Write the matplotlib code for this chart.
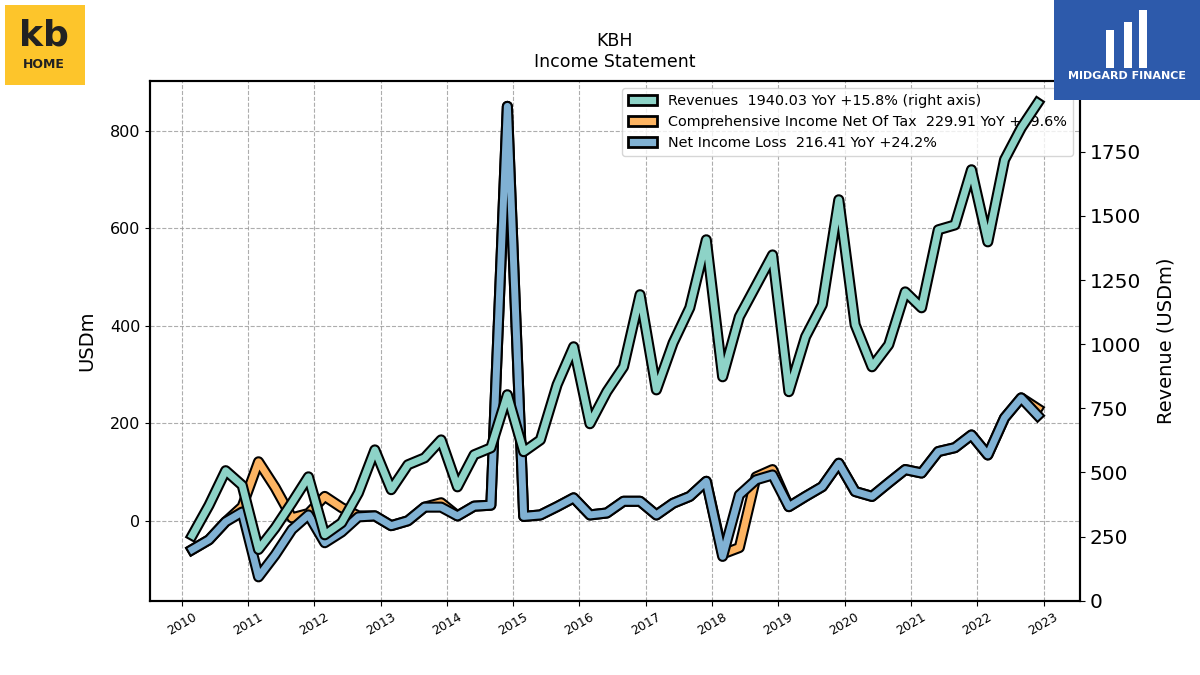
import pandas as pd
import matplotlib
matplotlib.use('Agg')
import matplotlib.pyplot as plt
import matplotlib.patheffects as pe
import matplotlib.dates as mdates
from matplotlib.patches import Patch, Rectangle

# quarter ends (fiscal year ends in November)
quarters = [f'{y}-{md}' for y in range(2010, 2023) for md in ('02-28', '05-31', '08-31', '11-30')]
dates = pd.to_datetime(quarters)

revenue = [255, 372, 507, 450, 200, 284, 382, 483, 257, 304, 420, 588,
           433, 530, 557, 627, 444, 569, 596, 803, 581, 627, 842, 990,
           690, 815, 912, 1193, 822, 1005, 1142, 1407, 873, 1107, 1228, 1348,
           815, 1029, 1154, 1563, 1076, 912, 998, 1204, 1142, 1446, 1465, 1680,
           1399, 1719, 1843, 1940]
net_income = [-59, -39, -2, 18, -115, -70, -18, 12, -45, -23, 8, 10,
              -10, 0, 28, 28, 10, 30, 32, 850, 9, 12, 29, 47,
              12, 16, 40, 40, 12, 36, 50, 81, -73, 53, 84, 94,
              29, 50, 70, 118, 60, 50, 78, 105, 98, 142, 150, 176,
              135, 211, 252, 216]
comp_income = [-59, -39, -2, 29, 121, 68, 6, 15, 50, 27, 10, 10,
               -10, 0, 28, 37, 10, 30, 32, 850, 9, 12, 29, 47,
               12, 16, 40, 40, 12, 36, 50, 81, -68, -55, 90, 105,
               29, 50, 70, 118, 60, 50, 78, 105, 98, 142, 150, 176,
               135, 211, 252, 230]

labels = ['Revenues  1940.03 YoY +15.8% (right axis)',
          'Comprehensive Income Net Of Tax  229.91 YoY +29.6%',
          'Net Income Loss  216.41 YoY +24.2%']
colors = ['#8dd3c7', '#fdb462', '#80b1d3']

fig, ax1 = plt.subplots(figsize=(12, 6.75), dpi=100)
fig.subplots_adjust(left=0.125, right=0.9, bottom=0.11, top=0.88)
ax2 = ax1.twinx()

outline = [pe.Stroke(linewidth=8, foreground='black'), pe.Normal()]
ax1.plot(dates, comp_income, color=colors[1], lw=5, path_effects=outline)
ax1.plot(dates, net_income, color=colors[2], lw=5, path_effects=outline)
ax2.plot(dates, revenue, color=colors[0], lw=5, path_effects=outline)

ax1.set_ylim(-164, 902)
ax2.set_ylim(0, 2026)
ax1.set_yticks([0, 200, 400, 600, 800])
ax2.set_yticks([0, 250, 500, 750, 1000, 1250, 1500, 1750])
ax1.tick_params(axis='y', labelsize=11.5)
ax2.tick_params(axis='y', labelsize=14.5)

ax1.xaxis.set_major_locator(mdates.YearLocator())
ax1.xaxis.set_major_formatter(mdates.DateFormatter('%Y'))
for t in ax1.get_xticklabels():
    t.set_rotation(30)
    t.set_fontsize(9)

ax1.grid(True, linestyle='--', color='#999999', lw=0.8, alpha=0.8)
for ax in (ax1, ax2):
    for s in ax.spines.values():
        s.set_linewidth(1.5)

ax1.set_ylabel('USDm', fontsize=14, labelpad=10)
ax2.set_ylabel('Revenue (USDm)', fontsize=14, labelpad=11)
ax1.set_title('KBH\nIncome Statement', fontsize=12.5, pad=10)

handles = [Patch(facecolor=c, edgecolor='black', lw=2) for c in colors]
ax1.legend(handles, labels, loc='upper right', fontsize=10.4)

# logos
fig.patches.append(Rectangle((5/1200, 1-85/675), 80/1200, 80/675, transform=fig.transFigure,
                             facecolor='#fdc52b', edgecolor='none'))
fig.text(44/1200, 1-35/675, 'kb', ha='center', va='center', fontsize=26, fontweight='bold', color='#222222')
fig.text(44/1200, 1-65/675, 'HOME', ha='center', va='center', fontsize=9, fontweight='bold', color='#222222')

fig.patches.append(Rectangle((1054/1200, 1-100/675), 146/1200, 100/675, transform=fig.transFigure,
                             facecolor='#2d5aab', edgecolor='none'))
for x0, y0, h in [(1106, 30, 38), (1124, 22, 46), (1139, 10, 58)]:
    fig.patches.append(Rectangle((x0/1200, 1-(y0+h)/675), 8/1200, h/675, transform=fig.transFigure,
                                 facecolor='white', edgecolor='none'))
fig.text(1127/1200, 1-76/675, 'MIDGARD FINANCE', ha='center', va='center', fontsize=8, fontweight='bold', color='white')

plt.savefig('out.png', dpi=100)
